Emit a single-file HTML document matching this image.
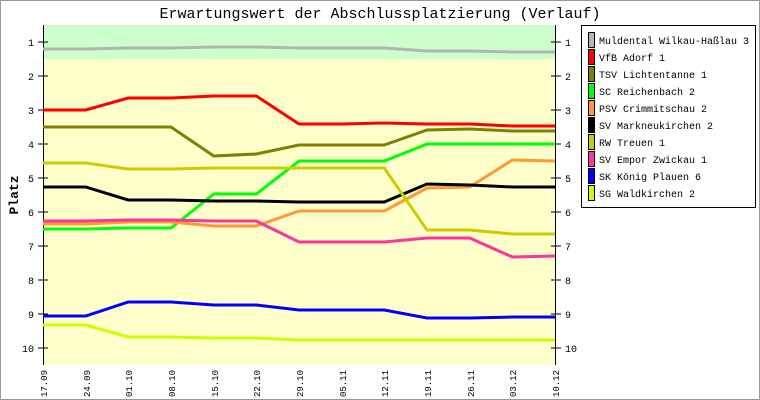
<!DOCTYPE html>
<html><head><meta charset="utf-8"><style>
html,body{margin:0;padding:0;background:#fff}
svg{display:block}
text{font-family:"Liberation Mono","DejaVu Sans Mono",monospace;fill:#000}
</style></head><body>
<svg width="760" height="400" viewBox="0 0 760 400" xmlns="http://www.w3.org/2000/svg">
<rect x="0.5" y="0.5" width="759" height="399" fill="#fff" stroke="#999" stroke-width="1"/>
<text x="380" y="18" font-size="15" text-anchor="middle">Erwartungswert der Abschlussplatzierung (Verlauf)</text>
<rect x="43" y="25" width="513" height="34" fill="#ccffcc"/>
<rect x="43" y="59" width="513" height="306" fill="#ffffcc"/>
<g stroke="#000" stroke-width="1" fill="none">
<line x1="43.5" y1="25" x2="43.5" y2="365"/>
<line x1="555.5" y1="25" x2="555.5" y2="365"/>
<path d="M38 42H48M38 76H48M38 110H48M38 144H48M38 178H48M38 212H48M38 246H48M38 280H48M38 314H48M38 348H48"/>
<path d="M551 42H561M551 76H561M551 110H561M551 144H561M551 178H561M551 212H561M551 246H561M551 280H561M551 314H561M551 348H561"/>
</g>
<g font-size="10" text-anchor="end">
<text x="34" y="46">1</text><text x="34" y="80">2</text><text x="34" y="114">3</text><text x="34" y="148">4</text><text x="34" y="182">5</text><text x="34" y="216">6</text><text x="34" y="250">7</text><text x="34" y="284">8</text><text x="34" y="318">9</text><text x="34" y="352">10</text>
</g>
<g font-size="10">
<text x="565" y="46">1</text><text x="565" y="80">2</text><text x="565" y="114">3</text><text x="565" y="148">4</text><text x="565" y="182">5</text><text x="565" y="216">6</text><text x="565" y="250">7</text><text x="565" y="284">8</text><text x="565" y="318">9</text><text x="565" y="352">10</text>
</g>
<text transform="translate(18,195) rotate(-90)" font-size="13" font-weight="bold" text-anchor="middle">Platz</text>
<g font-size="9" text-anchor="end">
<text transform="translate(47,370) rotate(-90)">17.09</text>
<text transform="translate(90,370) rotate(-90)">24.09</text>
<text transform="translate(132,370) rotate(-90)">01.10</text>
<text transform="translate(175,370) rotate(-90)">08.10</text>
<text transform="translate(218,370) rotate(-90)">15.10</text>
<text transform="translate(260,370) rotate(-90)">22.10</text>
<text transform="translate(303,370) rotate(-90)">29.10</text>
<text transform="translate(346,370) rotate(-90)">05.11</text>
<text transform="translate(388,370) rotate(-90)">12.11</text>
<text transform="translate(431,370) rotate(-90)">19.11</text>
<text transform="translate(474,370) rotate(-90)">26.11</text>
<text transform="translate(516,370) rotate(-90)">03.12</text>
<text transform="translate(559,370) rotate(-90)">10.12</text>
</g>
<g fill="none" stroke-width="3">
<polyline stroke="#b4b4b4" points="43,49 85.7,49 128.3,48 171,48 213.7,47 256.3,47 299,48 341.7,48 384.3,48 427,51 469.7,51 512.3,52 555,52"/>
<polyline stroke="#ff0000" points="43,110 85.7,110 128.3,98 171,98 213.7,96 256.3,96 299,124 341.7,124 384.3,123 427,124 469.7,124 512.3,126 555,126"/>
<polyline stroke="#808000" points="43,127 85.7,127 128.3,127 171,127 213.7,156 256.3,154 299,145 341.7,145 384.3,145 427,130 469.7,129 512.3,131 555,131"/>
<polyline stroke="#00ff00" points="43,229 85.7,229 128.3,228 171,228 213.7,194 256.3,194 299,161 341.7,161 384.3,161 427,144 469.7,144 512.3,144 555,144"/>
<polyline stroke="#ff9933" points="43,224 85.7,224 128.3,222 171,222 213.7,226 256.3,226 299,211 341.7,211 384.3,211 427,188 469.7,187 512.3,160 555,161"/>
<polyline stroke="#000000" points="43,187 85.7,187 128.3,200 171,200 213.7,201 256.3,201 299,202 341.7,202 384.3,202 427,184 469.7,185 512.3,187 555,187"/>
<polyline stroke="#cccc00" points="43,163 85.7,163 128.3,169 171,169 213.7,168 256.3,168 299,168 341.7,168 384.3,168 427,230 469.7,230 512.3,234 555,234"/>
<polyline stroke="#ff3399" points="43,221 85.7,221 128.3,220 171,220 213.7,221 256.3,221 299,242 341.7,242 384.3,242 427,238 469.7,238 512.3,257 555,256"/>
<polyline stroke="#0000ff" points="43,316 85.7,316 128.3,302 171,302 213.7,305 256.3,305 299,310 341.7,310 384.3,310 427,318 469.7,318 512.3,317 555,317"/>
<polyline stroke="#ccff00" points="43,325 85.7,325 128.3,337 171,337 213.7,338 256.3,338 299,340 341.7,340 384.3,340 427,340 469.7,340 512.3,340 555,340"/>
</g>
<rect x="581.5" y="25.5" width="174" height="182" fill="#fff" stroke="#000"/>
<g stroke="#000" stroke-width="1">
<rect x="588.5" y="32.5" width="6" height="15" fill="#b4b4b4"/>
<rect x="588.5" y="49.5" width="6" height="15" fill="#ff0000"/>
<rect x="588.5" y="66.5" width="6" height="15" fill="#808000"/>
<rect x="588.5" y="83.5" width="6" height="15" fill="#00ff00"/>
<rect x="588.5" y="100.5" width="6" height="15" fill="#ff9933"/>
<rect x="588.5" y="117.5" width="6" height="15" fill="#000000"/>
<rect x="588.5" y="134.5" width="6" height="15" fill="#cccc00"/>
<rect x="588.5" y="151.5" width="6" height="15" fill="#ff3399"/>
<rect x="588.5" y="168.5" width="6" height="15" fill="#0000ff"/>
<rect x="588.5" y="185.5" width="6" height="15" fill="#ccff00"/>
</g>
<g font-size="10">
<text x="599" y="44">Muldental Wilkau-Haßlau 3</text>
<text x="599" y="61">VfB Adorf 1</text>
<text x="599" y="78">TSV Lichtentanne 1</text>
<text x="599" y="95">SC Reichenbach 2</text>
<text x="599" y="112">PSV Crimmitschau 2</text>
<text x="599" y="129">SV Markneukirchen 2</text>
<text x="599" y="146">RW Treuen 1</text>
<text x="599" y="163">SV Empor Zwickau 1</text>
<text x="599" y="180">SK König Plauen 6</text>
<text x="599" y="197">SG Waldkirchen 2</text>
</g>
</svg>
</body></html>
